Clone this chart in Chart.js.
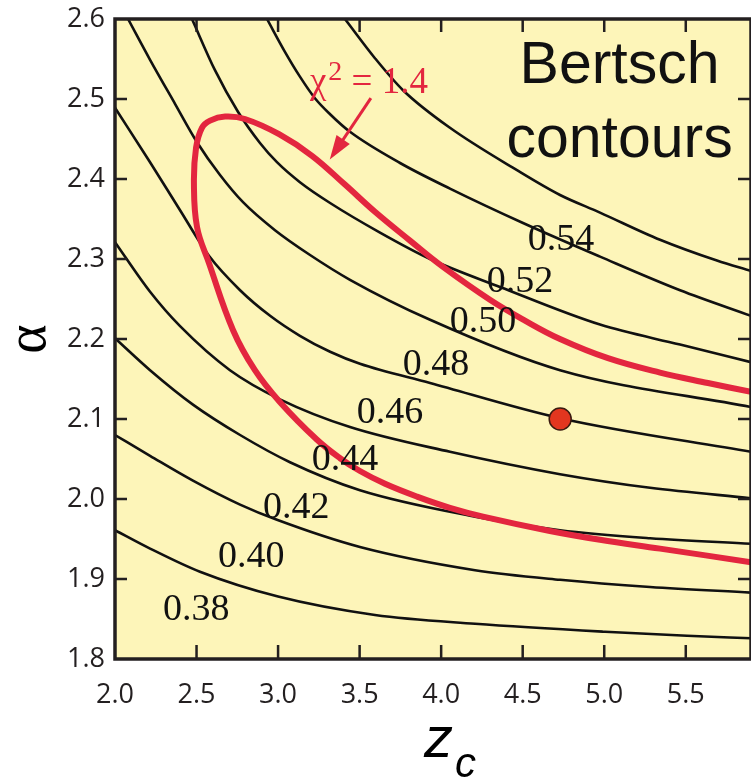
<!DOCTYPE html>
<html>
<head>
<meta charset="utf-8">
<script src="https://cdn.jsdelivr.net/npm/chart.js@4.4.1/dist/chart.umd.min.js"></script>
<style>
  html, body { margin: 0; padding: 0; background: #fff; }
  canvas { display: block; }
</style>
</head>
<body>
<canvas id="bertschChart" width="751" height="782"></canvas>
<script>
// axis ticks
const zcTicks = [2.0, 2.5, 3.0, 3.5, 4.0, 4.5, 5.0, 5.5];
const alphaTicks = [1.8, 1.9, 2.0, 2.1, 2.2, 2.3, 2.4, 2.5, 2.6];

// contour levels, bottom to top
const levels = ['0.38', '0.40', '0.42', '0.44', '0.46', '0.48', '0.50', '0.52', '0.54'];

// contour lines as [zc, alpha] pairs
const c038 = [[2.0, 1.961], [2.215, 1.938], [2.521, 1.909], [3.0, 1.878], [3.594, 1.855], [4.208, 1.844], [5.005, 1.834], [5.508, 1.829], [5.9, 1.826]];
const c040 = [[2.0, 2.080], [2.215, 2.054], [2.478, 2.023], [2.767, 1.993], [2.993, 1.974], [3.502, 1.940], [4.208, 1.911], [4.729, 1.899], [5.281, 1.890], [5.9, 1.883]];
const c042 = [[2.0, 2.201], [2.215, 2.161], [2.478, 2.118], [2.767, 2.080], [3.073, 2.046], [3.502, 2.011], [4.208, 1.978], [4.729, 1.961], [5.281, 1.951], [5.9, 1.944]];
const c044 = [[2.0, 2.321], [2.215, 2.259], [2.399, 2.216], [2.705, 2.161], [3.018, 2.124], [3.441, 2.090], [4.054, 2.059], [4.729, 2.031], [5.281, 2.014], [5.9, 2.001]];
const c046 = [[2.0, 2.489], [2.215, 2.421], [2.399, 2.361], [2.576, 2.304], [2.767, 2.261], [2.951, 2.229], [3.134, 2.204], [3.319, 2.184], [3.502, 2.169], [3.932, 2.145], [4.729, 2.101], [5.9, 2.059]];
const c048 = [[2.080, 2.600], [2.215, 2.549], [2.368, 2.494], [2.503, 2.446], [2.644, 2.405], [2.785, 2.371], [2.981, 2.336], [3.196, 2.305], [3.441, 2.274], [3.932, 2.224], [4.729, 2.161], [5.9, 2.115]];
const c050 = [[2.472, 2.600], [2.613, 2.536], [2.754, 2.484], [2.889, 2.445], [2.993, 2.421], [3.134, 2.396], [3.319, 2.370], [3.625, 2.333], [3.932, 2.300], [4.361, 2.265], [4.974, 2.218], [5.465, 2.193], [5.9, 2.171]];
const c052 = [[2.932, 2.600], [3.042, 2.559], [3.134, 2.528], [3.226, 2.501], [3.319, 2.481], [3.441, 2.459], [3.748, 2.420], [4.054, 2.388], [4.502, 2.345], [4.974, 2.303], [5.465, 2.261], [5.9, 2.229]];
const c054 = [[3.410, 2.600], [3.594, 2.551], [3.766, 2.511], [4.054, 2.464], [4.465, 2.411], [4.729, 2.380], [4.974, 2.358], [5.342, 2.324], [5.691, 2.298], [5.9, 2.285]];
const contours = [c038, c040, c042, c044, c046, c048, c050, c052, c054];

// chi^2 = 1.4 boundary, traced from the upper right edge round to the lower right edge
const chi2Contour = [
  [5.9, 2.134], [5.636, 2.145], [5.342, 2.158], [5.023, 2.176], [4.729, 2.200], [4.514, 2.223],
  [4.299, 2.249], [4.005, 2.291], [3.809, 2.323], [3.594, 2.359], [3.410, 2.393], [3.208, 2.429],
  [3.006, 2.456], [2.797, 2.475], [2.675, 2.478], [2.583, 2.473], [2.533, 2.464], [2.497, 2.439],
  [2.484, 2.395], [2.503, 2.340], [2.576, 2.295], [2.724, 2.211], [2.858, 2.161], [3.012, 2.121],
  [3.239, 2.074], [3.380, 2.051], [3.502, 2.035], [3.656, 2.019], [3.852, 2.003], [4.054, 1.989],
  [4.257, 1.978], [4.667, 1.960], [4.974, 1.949], [5.342, 1.938], [5.9, 1.921]
];

// best fit point
const bestFit = [[4.73, 2.10]];

// where each level label sits (left edge, baseline)
const levelLabelAt = [[2.294, 1.849], [2.631, 1.915], [2.907, 1.976], [3.207, 2.036], [3.483, 2.095],
  [3.765, 2.155], [4.053, 2.209], [4.279, 2.259], [4.531, 2.311]];

const INK = '#231f20';
const RED = '#e3263f';

const toXY = pts => pts.map(p => ({ x: p[0], y: p[1] }));

const datasets = [
  {
    label: 'best fit',
    data: toXY(bestFit),
    order: 0,
    showLine: false,
    pointRadius: 11,
    pointBackgroundColor: '#e2361f',
    pointBorderColor: '#3a1a10',
    pointBorderWidth: 1.5
  },
  {
    label: 'chi2 = 1.4',
    data: toXY(chi2Contour),
    order: 1,
    showLine: true,
    borderColor: RED,
    borderWidth: 6,
    pointRadius: 0,
    tension: 0.4
  }
].concat(contours.map((c, i) => ({
  label: levels[i],
  data: toXY(c),
  order: 2 + i,
  showLine: true,
  borderColor: '#111',
  borderWidth: 2.6,
  pointRadius: 0,
  cubicInterpolationMode: 'monotone'
})));

// background, labels, inward ticks and frame
const decor = {
  id: 'decor',
  beforeDatasetsDraw(chart) {
    const { ctx, chartArea: a } = chart;
    ctx.save();
    ctx.fillStyle = '#fdf5b9';
    ctx.fillRect(a.left, a.top, a.right - a.left, a.bottom - a.top);
    ctx.restore();
  },
  afterDatasetsDraw(chart) {
    const { ctx, chartArea: a, scales: { x, y } } = chart;
    ctx.save();

    // level labels
    ctx.fillStyle = '#111';
    ctx.font = '38px "Liberation Serif"';
    ctx.textAlign = 'left';
    ctx.textBaseline = 'alphabetic';
    levels.forEach((t, i) => {
      ctx.fillText(t, x.getPixelForValue(levelLabelAt[i][0]), y.getPixelForValue(levelLabelAt[i][1]));
    });

    // title block
    ctx.font = '59px "Liberation Sans"';
    ctx.textAlign = 'center';
    ctx.fillText('Bertsch', x.getPixelForValue(5.094), y.getPixelForValue(2.52));
    ctx.fillText('contours', x.getPixelForValue(5.094), y.getPixelForValue(2.4275));

    // chi^2 annotation
    ctx.fillStyle = RED;
    ctx.textAlign = 'left';
    let tx = x.getPixelForValue(3.195);
    const ty = y.getPixelForValue(2.5075);
    ctx.font = '37px "Liberation Serif"';
    ctx.fillText('χ', tx, ty);
    tx += ctx.measureText('χ').width + 2;
    ctx.font = '28px "Liberation Serif"';
    ctx.fillText('2', tx, ty - 13);
    tx += ctx.measureText('2').width;
    ctx.font = '37px "Liberation Serif"';
    ctx.fillText(' = 1.4', tx, ty);

    // arrow
    const x0 = x.getPixelForValue(3.569), y0 = y.getPixelForValue(2.501);
    const x1 = x.getPixelForValue(3.317), y1 = y.getPixelForValue(2.4245);
    const ang = Math.atan2(y1 - y0, x1 - x0);
    const hl = 24, hw = 8;
    ctx.strokeStyle = RED;
    ctx.lineWidth = 3;
    ctx.beginPath();
    ctx.moveTo(x0, y0);
    ctx.lineTo(x1 - (hl - 4) * Math.cos(ang), y1 - (hl - 4) * Math.sin(ang));
    ctx.stroke();
    ctx.beginPath();
    ctx.moveTo(x1, y1);
    ctx.lineTo(x1 - hl * Math.cos(ang) + hw * Math.sin(ang), y1 - hl * Math.sin(ang) - hw * Math.cos(ang));
    ctx.lineTo(x1 - hl * Math.cos(ang) - hw * Math.sin(ang), y1 - hl * Math.sin(ang) + hw * Math.cos(ang));
    ctx.closePath();
    ctx.fill();

    // frame and inward ticks
    ctx.strokeStyle = INK;
    ctx.lineWidth = 2.5;
    ctx.beginPath();
    zcTicks.slice(1).forEach(v => {
      const px = x.getPixelForValue(v);
      ctx.moveTo(px, a.bottom); ctx.lineTo(px, a.bottom - 14);
      ctx.moveTo(px, a.top); ctx.lineTo(px, a.top + 13);
    });
    alphaTicks.slice(1, -1).forEach(v => {
      const py = y.getPixelForValue(v);
      ctx.moveTo(a.left, py); ctx.lineTo(a.left + 12, py);
      ctx.moveTo(a.right, py); ctx.lineTo(a.right - 13, py);
    });
    ctx.stroke();
    ctx.lineWidth = 3.5;
    ctx.strokeRect(a.left, a.top, a.right - a.left, a.bottom - a.top);

    // axis titles
    ctx.fillStyle = '#000';
    ctx.save();
    ctx.translate(30, (a.top + a.bottom) / 2);
    ctx.rotate(-Math.PI / 2);
    ctx.font = '56px "Liberation Serif"';
    ctx.textAlign = 'center';
    ctx.textBaseline = 'middle';
    ctx.fillText('α', 0, 0);
    ctx.restore();

    ctx.textAlign = 'left';
    ctx.textBaseline = 'alphabetic';
    ctx.font = 'italic 58px "Liberation Sans"';
    ctx.fillText('z', 424, 757);
    ctx.font = 'italic 42px "Liberation Sans"';
    ctx.fillText('c', 455, 777);

    ctx.restore();
  }
};

const tickFont = { family: "'Open Sans', sans-serif", size: 27 };

new Chart(document.getElementById('bertschChart').getContext('2d'), {
  type: 'scatter',
  data: { datasets: datasets },
  options: {
    responsive: false,
    devicePixelRatio: 1,
    animation: false,
    layout: { autoPadding: false, padding: { top: 19, right: 0, left: 0, bottom: 0 } },
    plugins: {
      legend: { display: false },
      tooltip: { enabled: false }
    },
    scales: {
      x: {
        type: 'linear',
        min: 2.0,
        max: 5.9,
        afterBuildTicks: s => { s.ticks = zcTicks.map(v => ({ value: v })); },
        afterFit: s => { s.height = 123; s.paddingLeft = 0; s.paddingRight = 0; },
        grid: { display: false, drawTicks: false },
        border: { display: false },
        ticks: {
          font: tickFont,
          color: INK,
          padding: 20,
          maxRotation: 0,
          autoSkip: false,
          callback: v => Number(v).toFixed(1)
        }
      },
      y: {
        type: 'linear',
        min: 1.8,
        max: 2.6,
        afterBuildTicks: s => { s.ticks = alphaTicks.map(v => ({ value: v })); },
        afterFit: s => { s.width = 115; s.paddingTop = 0; s.paddingBottom = 0; },
        grid: { display: false, drawTicks: false },
        border: { display: false },
        ticks: {
          font: tickFont,
          color: INK,
          padding: 10,
          autoSkip: false,
          callback: v => Number(v).toFixed(1)
        }
      }
    }
  },
  plugins: [decor]
});
</script>
</body>
</html>
